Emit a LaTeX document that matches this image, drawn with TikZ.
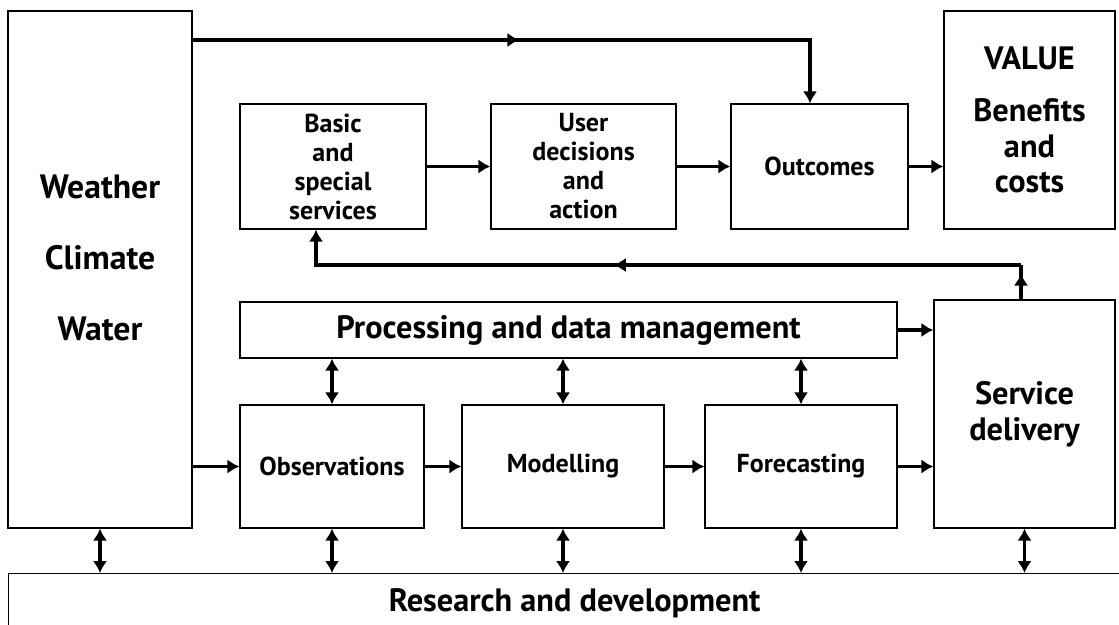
\documentclass[tikz,border=0pt]{standalone}
\usepackage{fontspec}
\setmainfont{PT Sans}
\usepackage{tikz}
\usetikzlibrary{arrows}
\usetikzlibrary{arrows.meta}
\usetikzlibrary{decorations.markings}

\begin{document}
\begin{tikzpicture}[node distance=6cm,
	>={Latex[width=3.6mm,length=3mm]},
    block/.style = {rectangle, draw=black, line width=0.9pt, inner sep=0pt,
                   text centered, align=center,
                   font=\bfseries\fontsize{18.5}{20.6}\selectfont},
    bigblock/.style = {block, font=\bfseries\fontsize{23}{25.5}\selectfont},
    conn/.style = {line width=2.2pt},
    midtip/.style = {postaction={decorate},
                     decoration={markings,
                       mark=at position #1 with {\arrow{Latex[width=3.6mm,length=3mm]}}}}]
  \clip (0,0) rectangle (27.975,-15.625);

  \node (weather) [bigblock, minimum width=4.6cm, minimum height=12.925cm,
                   font=\bfseries\fontsize{24}{25.5}\selectfont] at (2.5,-6.7375)
    {Weather\\[0.875cm]Climate\\[0.875cm]Water\\[-0.3cm]\mbox{}};
  \node (basic) [block, minimum width=4.65cm, minimum height=3.125cm] at (8.325,-4.1625)
    {Basic\\and\\special\\services};
  \node (user) [block, minimum width=4.625cm, minimum height=3.125cm,
                right of=basic, node distance=6.2625cm] {User\\decisions\\and\\action};
  \node (outcomes) [block, minimum width=4.425cm, minimum height=3.125cm,
                right of=user, node distance=5.9cm] {Outcomes};
  \node (value) [bigblock, minimum width=4.275cm, minimum height=5.45cm] at (25.7375,-3.0)
    {VALUE\\[0.4cm]Benefits\\and\\costs};

  \node (proc) [bigblock, minimum width=16.425cm, minimum height=1.4cm] at (14.2125,-8.25)
    {Processing and data management};
  \node (service) [bigblock, minimum width=4.525cm, minimum height=5.7cm] at (25.6125,-10.35)
    {Service\\delivery};

  \node (obs) [block, minimum width=4.6cm, minimum height=3.075cm] at (8.3,-11.6625)
    {Observations};
  \node (model) [block, minimum width=5.05cm, minimum height=3.075cm,
                right of=obs, node distance=5.775cm] {Modelling};
  \node (fore) [block, minimum width=4.8cm, minimum height=3.075cm,
                right of=model, node distance=5.95cm] {Forecasting};

  \node (rd) [bigblock, anchor=north west, minimum width=28.3cm, minimum height=1.5cm]
    at (0.2,-14.325) {Research and development};

  % corners of the long connectors
  \coordinate (topturn) at (20.25,-1.0);
  \coordinate (fbturn) at (25.525,-6.625);
  \coordinate (fbleft) at (7.9,-6.625);

  \draw[->, conn, midtip=0.48]
    (weather.east |- topturn) -- (topturn.center) -- (topturn |- outcomes.north);
  \draw[conn, midtip=0.75]
    (fbturn |- service.north) -- (fbturn.center);
  \draw[->, conn, midtip=0.55]
    (fbturn.center) -- (fbleft.center) -- (fbleft |- basic.south);

  \path[->, conn]
    (basic) edge (user)
    (user) edge (outcomes)
    (outcomes.east) edge (outcomes.east -| value.west)
    (proc.east) edge (proc.east -| service.west)
    (weather.east |- obs.west) edge (obs.west)
    (obs) edge (model)
    (model) edge (fore)
    (fore.east) edge (fore.east -| service.west);

  \path[<->, conn]
    (obs.north) edge (obs.north |- proc.south)
    (model.north) edge (model.north |- proc.south)
    (fore.north) edge (fore.north |- proc.south)
    (weather.south) edge (weather.south |- rd.north)
    (obs.south) edge (obs.south |- rd.north)
    (model.south) edge (model.south |- rd.north)
    (fore.south) edge (fore.south |- rd.north)
    (service.south) edge (service.south |- rd.north);
\end{tikzpicture}
\end{document}
